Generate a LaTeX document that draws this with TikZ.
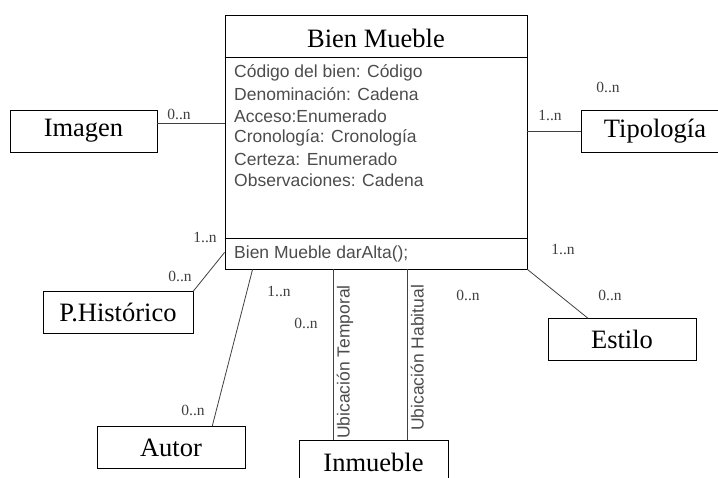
\documentclass[tikz,border=0pt]{standalone}
\usepackage{fontspec}
\setmainfont{Liberation Serif}
\setsansfont{Liberation Sans}
\usetikzlibrary{positioning}

\begin{document}
\begin{tikzpicture}[x=1pt, y=-1pt,
    clase/.style={draw, rectangle, minimum height=42pt, inner sep=0pt, font=\fontsize{26.5}{29}\selectfont},
    attr/.style={anchor=west, inner sep=0pt, text=black!70, font=\sffamily\fontsize{17.5}{20}\selectfont},
    rol/.style={rotate=90, anchor=north, inner sep=3pt, text=black!70, font=\sffamily\fontsize{17.5}{20}\selectfont},
    mult/.style={inner sep=0pt, text=black!75, font=\fontsize{15.5}{17}\selectfont},
    enlace/.style={draw=black!75, line width=0.8pt}]
                \useasboundingbox (0,0) rectangle (718,478);
                \clip (0,0) rectangle (718,478);

                % clase principal
                \node[draw, line width=0.9pt, minimum width=302pt, minimum height=254pt, inner sep=0pt] (bm) at (376,142) {};
                \node[font=\fontsize{26.5}{29}\selectfont] (titulo) at (376,38) {Bien Mueble};
                \draw[line width=0.9pt] ([yshift=-43pt]bm.north west) -- ([yshift=-43pt]bm.north east);
                \draw[line width=0.9pt] ([yshift=31pt]bm.south west) -- ([yshift=31pt]bm.south east);
                \foreach \t [count=\i] in {Código del bien: Código, Denominación: Cadena, Acceso:Enumerado,
                        Cronología: Cronología, Certeza: Enumerado, Observaciones: Cadena}
                    \node[attr] (a\i) at (234,51.5+21.5*\i) {\t};
                \node[attr] (metodo) at (234,254) {Bien Mueble darAlta();};

                % clases relacionadas
                \node[clase, minimum width=147pt] (img) at (83.5,131) {Imagen};
                \node[clase, minimum width=148pt] (tip) at (655,131.5) {Tipología};
                \node[clase, minimum width=150pt] (ph) at (118,312.5) {P.Histórico};
                \node[clase, minimum width=148pt] (aut) at (171,447.5) {Autor};
                \node[clase, minimum width=149pt, minimum height=44pt] (inm) at (373.5,462) {Inmueble};
                \node[clase, minimum width=148pt] (est) at (622,339.5) {Estilo};

                % asociaciones
                \draw[enlace] ([yshift=8pt]img.east) coordinate (i1) -- (i1 -| bm.west);
                \draw[enlace] (bm.east |- tip.west) -- (tip.west);
                \draw[enlace] (ph.north east) -- ([yshift=17pt]bm.south west);
                \draw[enlace] ([xshift=-33pt]aut.north east) -- ([xshift=28pt]bm.south west);
                \draw[enlace] ([xshift=-40pt]inm.north) coordinate (u1) -- (u1 |- bm.south);
                \draw[enlace] ([xshift=34pt]inm.north) coordinate (u2) -- (u2 |- bm.south);
                \draw[enlace] (bm.south east) -- ([xshift=-34pt]est.north);

                \node[rol] (ut) at (333.5,362) {Ubicación Temporal};
                \node[rol] (uh) at (407.5,358) {Ubicación Habitual};

                % multiplicidades
                \node[mult] (m1) at (179,114) {0..n};
                \node[mult] (m2) at (550,115) {1..n};
                \node[mult] (m3) at (608,87) {0..n};
                \node[mult] (m4) at (205,237) {1..n};
                \node[mult] (m5) at (180,276) {0..n};
                \node[mult] (m6) at (279,291) {1..n};
                \node[mult] (m7) at (193,410) {0..n};
                \node[mult] (m8) at (306,323) {0..n};
                \node[mult] (m9) at (468,295) {0..n};
                \node[mult] (m10) at (563,249) {1..n};
                \node[mult] (m11) at (610,295) {0..n};
            \end{tikzpicture}
\end{document}
